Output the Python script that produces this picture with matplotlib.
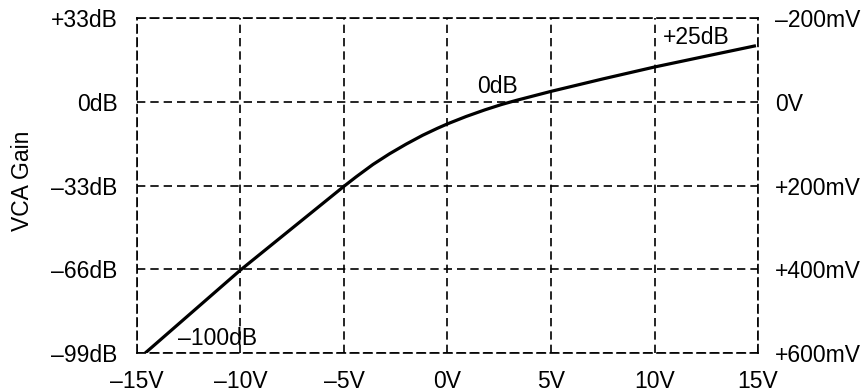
import matplotlib
matplotlib.use('Agg')
import matplotlib.pyplot as plt

plt.rcParams['font.family'] = ['Liberation Sans', 'DejaVu Sans']

# control voltage (V) vs VCA gain (dB)
cv_volts = [-14.6, -10, -5, -4.4, -3.6, -2.8, -2.0, -1.2, -0.5, 0, 0.9, 1.8, 2.6, 3.3, 5, 7.5, 10, 12.5, 14.9]
gain_db = [-99, -66.3, -33.3, -29.5, -24.7, -20.5, -16.7, -13.2, -10.5, -8.7, -5.8, -3.2, -1.1, 0.5, 4.1, 9.0, 13.7, 18.0, 22.1]

x_ticks = [-15, -10, -5, 0, 5, 10, 15]
x_labels = ['\u201315V', '\u201310V', '\u20135V', '0V', '5V', '10V', '15V']
y_ticks = [33, 0, -33, -66, -99]
y_labels = ['+33dB', '0dB', '\u201333dB', '\u201366dB', '\u201399dB']
right_labels = ['\u2013200mV', '0V', '+200mV', '+400mV', '+600mV']

notes = [('+25dB', 10.4, 25.4, 'left'), ('0dB', 2.4, 6.0, 'center'), ('\u2013100dB', -11.1, -93.3, 'center')]

fs = 16.5

fig = plt.figure(figsize=(8.68, 3.92), dpi=100)
ax = fig.add_axes([0.1578, 0.0995, 0.7155, 0.8545])

dash = (0, (5, 3))
ax.set_xlim(-15, 15)
ax.set_ylim(-99, 33)
ax.set_xticks(x_ticks)
ax.set_xticklabels(x_labels)
ax.set_yticks(y_ticks)
ax.set_yticklabels(y_labels)
ax.grid(True, color='black', linestyle=dash, linewidth=1.2)
for s in ax.spines.values():
    s.set_linestyle(dash)
    s.set_linewidth(1.2)
ax.tick_params(axis='x', length=0, pad=12, labelsize=fs)
ax.tick_params(axis='y', length=0, pad=14, labelsize=fs)

ax.plot(cv_volts, gain_db, color='black', linewidth=2.3, solid_capstyle='butt',
        solid_joinstyle='round', zorder=3)

for txt, x, y, ha in notes:
    ax.text(x, y, txt, fontsize=fs, ha=ha, va='center')

ax.set_ylabel('VCA Gain', fontsize=fs)
ax.yaxis.set_label_coords(-0.165, 0.515)

ax2 = ax.twinx()
ax2.set_ylim(ax.get_ylim())
ax2.set_yticks(y_ticks)
ax2.set_yticklabels(right_labels)
ax2.tick_params(axis='y', length=0, pad=12, labelsize=fs)
for s in ax2.spines.values():
    s.set_visible(False)

fig.savefig('out.png', dpi=100)
